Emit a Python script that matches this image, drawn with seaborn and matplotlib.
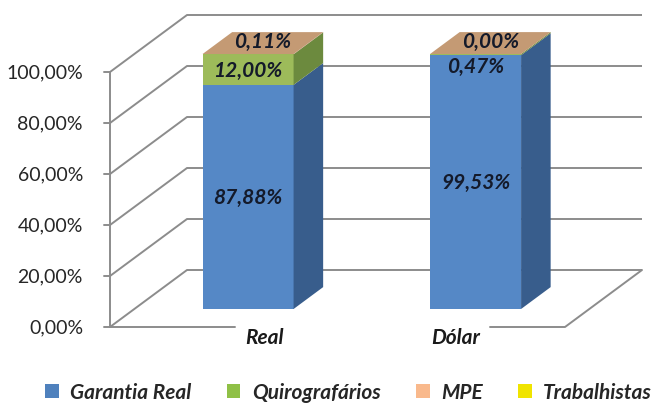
import numpy as np
import pandas as pd
import seaborn as sns
import matplotlib.pyplot as plt
from matplotlib.patches import Patch

# Data (percent of each debt class, per currency)
categories = ["Real", "Dólar"]
series = ["Garantia Real", "Quirografários", "MPE", "Trabalhistas"]
garantia_real = [87.88, 99.53]
quirografarios = [12.00, 0.47]
mpe = [0.11, 0.00]
trabalhistas = [np.nan, np.nan]  # no value in the source table
yticks = [0, 20, 40, 60, 80, 100]
ytick_labels = ["0,00%", "20,00%", "40,00%", "60,00%", "80,00%", "100,00%"]

values = [garantia_real, quirografarios, mpe, trabalhistas]

# Colours: legend, front face, side face, top face
legend_col = ["#4F81BD", "#8FC046", "#F9B98C", "#F0E400"]
front_col = ["#5588C6", "#9DBB5A", "#F7B98B", "#F0E400"]
side_col = ["#385D8C", "#6C8A3E", "#B08060", "#A89F00"]
top_col = ["#6A9AD6", "#AFCB6F", "#C49A74", "#F5EE60"]

# Fake 3D geometry (pixel based, 653x406 figure)
PX_CAT, PX_PCT, X0, Y0 = 227.5, 2.55, 110, 328
DX, DY = 77 / PX_CAT, 57 / PX_PCT      # offset front plane -> back wall
F1, F2 = 0.316, 0.70                  # depth of bar front / back
BAR_W = 0.40
BASE = F1 * DY                        # bar front face sits above the front floor edge

sns.set_theme(style="white")
plt.rcParams["font.family"] = ["Lato", "DejaVu Sans"]

dpi = 100
fig = plt.figure(figsize=(653 / dpi, 406 / dpi), dpi=dpi)
ax = fig.add_axes([0, 0, 1, 1])

# front faces with seaborn: cumulative heights, drawn tallest first
rows = []
for i, cat in enumerate(categories):
    cum = 0
    for s, vals in zip(series, values):
        v = vals[i]
        if np.isnan(v):
            continue
        cum += v
        rows.append({"pos": i + F1 * DX, "cum": cum, "serie": s})
df = pd.DataFrame(rows)
order = [s for s in series if s in df["serie"].unique()][::-1]
sns.barplot(data=df, x="pos", y="cum", hue="serie", hue_order=order,
            palette=dict(zip(series, front_col)), native_scale=True,
            dodge=False, width=BAR_W, saturation=1, linewidth=0,
            errorbar=None, legend=False, ax=ax, zorder=2)
for p in ax.patches:
    p.set_y(p.get_y() + BASE)

grid_c = "#8C8C8C"
# walls / gridlines
for t in yticks:
    ax.plot([-0.5, -0.5 + DX, 1.5 + DX], [t, t + DY, t + DY],
            color=grid_c, lw=1.4, zorder=0.5, solid_capstyle="butt")
    ax.plot([-0.5 - 6 / PX_CAT, -0.5], [t, t], color=grid_c, lw=1.4, zorder=0.5)
ax.plot([-0.5, -0.5], [0, 100], color=grid_c, lw=1.4, zorder=0.5)
# floor
ax.plot([-0.5, (235 - X0) / PX_CAT - 0.5], [0, 0], color=grid_c, lw=1.4, zorder=0.5)
ax.plot([(490 - X0) / PX_CAT - 0.5, 1.5, 1.5 + DX], [0, 0, DY],
        color=grid_c, lw=1.4, zorder=0.5)

# side and top faces
dd = F2 - F1
for i in range(len(categories)):
    xl = i + F1 * DX - BAR_W / 2
    xr = xl + BAR_W
    cum = BASE
    top_k = 0
    for k, vals in enumerate(values):
        v = vals[i]
        if np.isnan(v):
            continue
        y0, y1 = cum, cum + v
        cum = y1
        top_k = k
        if v > 0:
            ax.fill([xr, xr, xr + dd * DX, xr + dd * DX],
                    [y0, y1, y1 + dd * DY, y0 + dd * DY],
                    color=side_col[k], lw=0, zorder=2)
    ax.fill([xl, xr, xr + dd * DX, xl + dd * DX],
            [cum, cum, cum + dd * DY, cum + dd * DY],
            color=top_col[top_k], lw=0, zorder=2)

# data labels
lab_font = dict(fontsize=15, fontweight="bold", fontstyle="italic",
                color="#141a2a", ha="center", zorder=3)
fmt = lambda v: f"{v:.2f}".replace(".", ",") + "%"
for i in range(len(categories)):
    xc = i + F1 * DX
    cum = BASE
    last = max(k for k, vals in enumerate(values) if not np.isnan(vals[i]))
    for k, vals in enumerate(values):
        v = vals[i]
        if np.isnan(v):
            continue
        if k == last:
            # label on top face
            ax.text(xc + dd * DX / 2, cum + v + dd * DY / 2 + 0.8, fmt(v),
                    va="center", **lab_font)
        elif v < 3:
            ax.text(xc, cum + v - 0.6, fmt(v), va="top", **lab_font)
        else:
            ax.text(xc, cum + v / 2, fmt(v), va="center", **lab_font)
        cum += v

# y tick labels
for t, lab in zip(yticks, ytick_labels):
    ax.text(-0.5 - 27 / PX_CAT, t, lab, ha="right", va="center",
            fontsize=14, color="#262626")

# category labels
cat_dx = [0.07, -0.086]
for i, cat in enumerate(categories):
    ax.text(i + F1 * DX + cat_dx[i], -4.0, cat, ha="center", va="center",
            fontsize=15, fontweight="bold", fontstyle="italic", color="#1a1a1a")

ax.set_xlim((0 - X0) / PX_CAT - 0.5, (653 - X0) / PX_CAT - 0.5)
ax.set_ylim((Y0 - 406) / PX_PCT, Y0 / PX_PCT)
ax.set_axis_off()

handles = [Patch(facecolor=c, edgecolor="none") for c in legend_col]
fig.legend(handles, series, loc="center", bbox_to_anchor=(0.534, 1 - 393 / 406),
           ncol=4, frameon=False, handlelength=0.65, handleheight=0.65,
           handletextpad=0.55, columnspacing=1.7,
           prop=dict(family="Lato", size=15, weight="bold", style="italic"))

fig.savefig("out.png", dpi=dpi)
